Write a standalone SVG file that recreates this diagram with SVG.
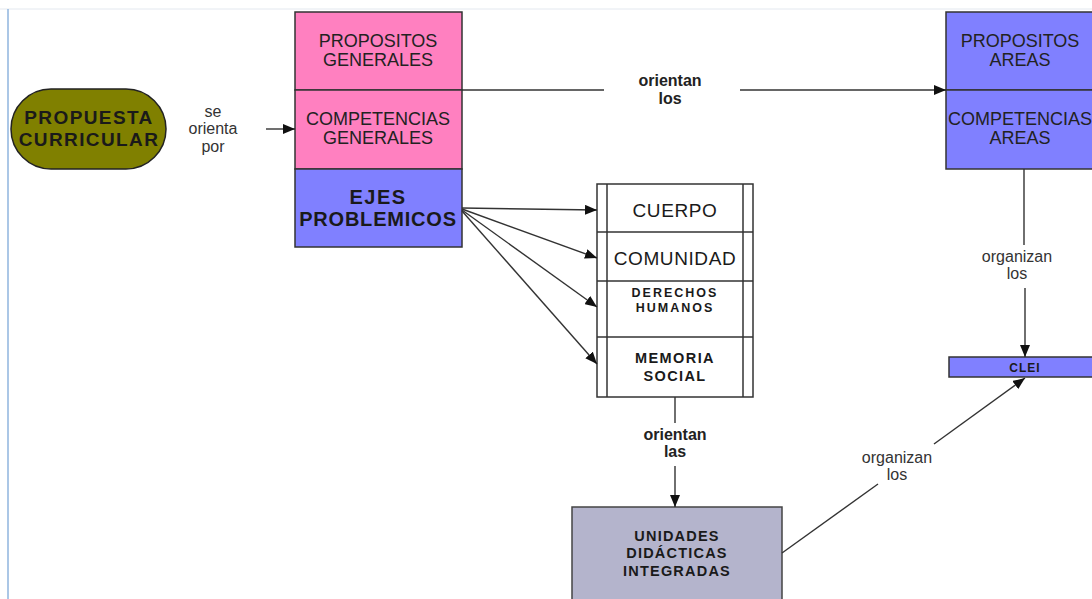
<svg xmlns="http://www.w3.org/2000/svg" width="1092" height="599" viewBox="0 0 1092 599">
<style>
text{font-family:"Liberation Sans",Arial,sans-serif;text-anchor:middle;fill:#1a1a1a}
.box{stroke:#333;stroke-width:1.5}
.pink{fill:#ff80c0}
.blue{fill:#8080ff}
.lbl{font-size:16px;fill:#333}
.lblb{font-size:16px;font-weight:bold;fill:#222}
.cn{stroke:#333;stroke-width:1.4;fill:none}
.big{font-size:18px;fill:#222}
</style>
<defs>
<marker id="ah" viewBox="0 0 12 10" refX="12" refY="5" markerWidth="12" markerHeight="10" markerUnits="userSpaceOnUse" orient="auto">
<path d="M0,0 L12,5 L0,10 z" fill="#111"/>
</marker>
</defs>
<rect width="1092" height="599" fill="#fff"/>
<line x1="0" y1="9" x2="1092" y2="9" stroke="#e3e8ef" stroke-width="1"/>
<line x1="8" y1="9" x2="8" y2="599" stroke="#8fb4de" stroke-width="1.5"/>

<g id="propuesta">
<rect x="11" y="89" width="155" height="80" rx="40" ry="40" fill="#808000" stroke="#222" stroke-width="1.5"/>
<text x="89" y="124" font-size="19" font-weight="bold" letter-spacing="1.4" fill="#111">PROPUESTA</text>
<text x="89" y="146" font-size="19" font-weight="bold" letter-spacing="1.4" fill="#111">CURRICULAR</text>
</g>

<g id="propositos-generales">
<rect class="box pink" x="295" y="12" width="167" height="78"/>
<text class="big" x="378" y="47">PROPOSITOS</text>
<text class="big" x="378" y="66">GENERALES</text>
</g>
<g id="competencias-generales">
<rect class="box pink" x="295" y="90" width="167" height="79"/>
<text class="big" x="378" y="125">COMPETENCIAS</text>
<text class="big" x="378" y="144">GENERALES</text>
</g>
<g id="ejes">
<rect class="box blue" x="295" y="169" width="167" height="78"/>
<text x="378" y="204" font-size="20" font-weight="bold" letter-spacing="1.5" fill="#111">EJES</text>
<text x="378" y="226" font-size="20" font-weight="bold" letter-spacing="0.8" fill="#111">PROBLEMICOS</text>
</g>

<g id="propositos-areas">
<rect class="box blue" x="946" y="12" width="150" height="78"/>
<text class="big" x="1020" y="47">PROPOSITOS</text>
<text class="big" x="1020" y="66">AREAS</text>
</g>
<g id="competencias-areas">
<rect class="box blue" x="946" y="90" width="150" height="79"/>
<text class="big" x="1020" y="125">COMPETENCIAS</text>
<text class="big" x="1020" y="144">AREAS</text>
</g>

<g id="clei">
<rect class="box blue" x="949" y="357" width="150" height="20"/>
<text x="1025" y="372" font-size="12" font-weight="bold" letter-spacing="1" fill="#111">CLEI</text>
</g>

<g id="lista">
<rect x="597" y="184" width="156" height="213" fill="#fff" stroke="#333" stroke-width="1.5"/>
<line x1="607" y1="184" x2="607" y2="397" stroke="#333" stroke-width="1.5"/>
<line x1="743" y1="184" x2="743" y2="397" stroke="#333" stroke-width="1.5"/>
<line x1="597" y1="232" x2="753" y2="232" stroke="#333" stroke-width="1.5"/>
<line x1="597" y1="281" x2="753" y2="281" stroke="#333" stroke-width="1.5"/>
<line x1="597" y1="337" x2="753" y2="337" stroke="#333" stroke-width="1.5"/>
<g id="cuerpo"><text x="675" y="217" font-size="19" letter-spacing="0.6" fill="#111">CUERPO</text></g>
<g id="comunidad"><text x="675" y="265" font-size="19" letter-spacing="0.6" fill="#111">COMUNIDAD</text></g>
<g id="derechos"><text x="675" y="297" font-size="12.5" font-weight="bold" letter-spacing="2" fill="#222">DERECHOS</text>
<text x="675" y="312" font-size="12.5" font-weight="bold" letter-spacing="2" fill="#222">HUMANOS</text></g>
<g id="memoria"><text x="675" y="363" font-size="14.5" font-weight="bold" letter-spacing="1.4" fill="#222">MEMORIA</text>
<text x="675" y="381" font-size="14.5" font-weight="bold" letter-spacing="1.4" fill="#222">SOCIAL</text></g>
</g>

<g id="unidades">
<rect x="572" y="507" width="210" height="100" fill="#b4b4cc" stroke="#444" stroke-width="1.5"/>
<text x="677" y="541" font-size="14.5" font-weight="bold" letter-spacing="1.2" fill="#111">UNIDADES</text>
<text x="677" y="558" font-size="14.5" font-weight="bold" letter-spacing="1.2" fill="#111">DIDÁCTICAS</text>
<text x="677" y="576" font-size="14.5" font-weight="bold" letter-spacing="1.2" fill="#111">INTEGRADAS</text>
</g>

<g id="connectors">
<text class="lbl" x="213" y="117">se</text>
<text class="lbl" x="213" y="134">orienta</text>
<text class="lbl" x="213" y="152">por</text>
<line class="cn" x1="266" y1="129" x2="295" y2="129" marker-end="url(#ah)"/>

<line class="cn" x1="462" y1="90" x2="604" y2="90"/>
<line class="cn" x1="740" y1="90" x2="946" y2="90" marker-end="url(#ah)"/>
<text class="lblb" x="670" y="86">orientan</text>
<text class="lblb" x="670" y="104">los</text>

<line class="cn" x1="462" y1="208" x2="597" y2="210" marker-end="url(#ah)"/>
<line class="cn" x1="462" y1="209" x2="597" y2="258" marker-end="url(#ah)"/>
<line class="cn" x1="462" y1="210" x2="597" y2="307" marker-end="url(#ah)"/>
<line class="cn" x1="462" y1="211" x2="597" y2="364" marker-end="url(#ah)"/>

<line class="cn" x1="675" y1="397" x2="675" y2="423"/>
<line class="cn" x1="675" y1="466" x2="675" y2="507" marker-end="url(#ah)"/>
<text class="lblb" x="675" y="440">orientan</text>
<text class="lblb" x="675" y="457">las</text>

<line class="cn" x1="1024" y1="169" x2="1024" y2="245"/>
<line class="cn" x1="1025" y1="288" x2="1025" y2="357" marker-end="url(#ah)"/>
<text class="lbl" x="1017" y="262">organizan</text>
<text class="lbl" x="1017" y="279">los</text>

<line class="cn" x1="782" y1="553" x2="878" y2="484"/>
<line class="cn" x1="934" y1="444" x2="1025" y2="378" marker-end="url(#ah)"/>
<text class="lbl" x="897" y="463">organizan</text>
<text class="lbl" x="897" y="480">los</text>
</g>
</svg>
